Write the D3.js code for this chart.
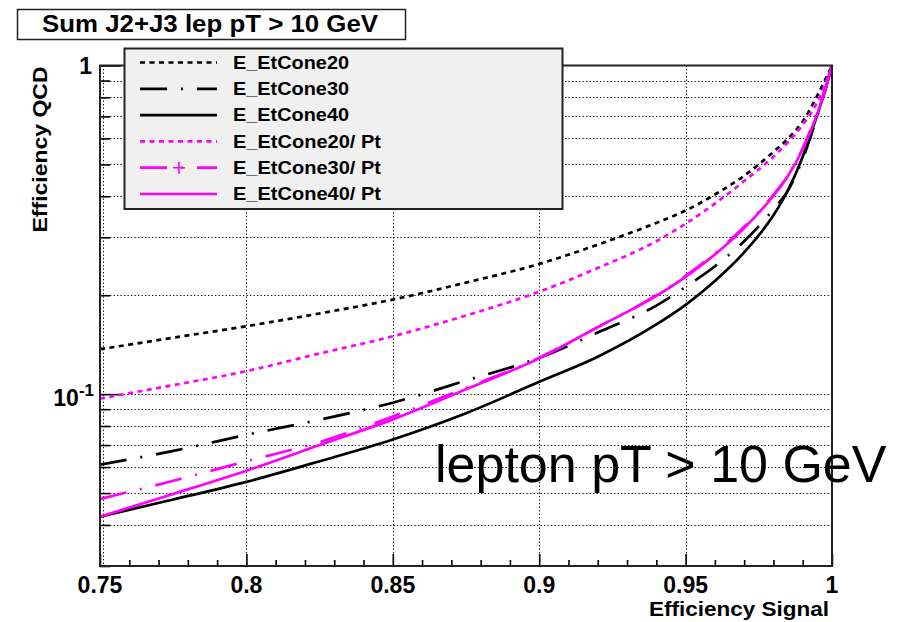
<!DOCTYPE html>
<html>
<head>
<meta charset="utf-8">
<script src="https://cdn.jsdelivr.net/npm/d3@7"></script>
<style>
  body { margin: 0; background: #fff; }
  svg { display: block; font-family: "Liberation Sans", Arial, Helvetica, sans-serif; }
</style>
</head>
<body>
<svg id="chart" width="911" height="622"></svg>
<script>
// Signal efficiency points shared by every isolation curve
const signalEff = [0.75, 0.775, 0.80, 0.825, 0.85, 0.875, 0.90, 0.92, 0.94, 0.95,
                   0.96, 0.97, 0.98, 0.985, 0.99, 0.995, 0.998, 1.0];

// QCD background efficiency for each isolation variable
const qcdEtCone20    = [0.137, 0.1485, 0.161, 0.176, 0.194, 0.2185, 0.249, 0.285, 0.332, 0.362,
                        0.405, 0.462, 0.546, 0.600, 0.676, 0.811, 0.918, 1.0];
const qcdEtCone30    = [0.061, 0.0672, 0.0752, 0.0836, 0.0942, 0.110, 0.129, 0.154, 0.186, 0.212,
                        0.245, 0.292, 0.365, 0.417, 0.520, 0.702, 0.866, 1.0];
const qcdEtCone40    = [0.0424, 0.0478, 0.0541, 0.0625, 0.0728, 0.0875, 0.109, 0.130, 0.163, 0.187,
                        0.221, 0.270, 0.350, 0.418, 0.528, 0.710, 0.860, 1.0];
const qcdEtCone20Pt  = [0.097, 0.1065, 0.1175, 0.133, 0.150, 0.1735, 0.205, 0.242, 0.292, 0.330,
                        0.380, 0.445, 0.528, 0.585, 0.660, 0.775, 0.895, 1.0];
const qcdEtCone30Pt  = [0.048, 0.0545, 0.0625, 0.0715, 0.0855, 0.1045, 0.129, 0.160, 0.200, 0.229,
                        0.268, 0.323, 0.404, 0.463, 0.560, 0.725, 0.868, 1.0];
const qcdEtCone40Pt  = [0.0424, 0.0497, 0.0585, 0.070, 0.0838, 0.1035, 0.1285, 0.160, 0.199, 0.2275,
                        0.266, 0.320, 0.402, 0.462, 0.556, 0.715, 0.860, 1.0];

const seriesNames  = ["E_EtCone20", "E_EtCone30", "E_EtCone40",
                      "E_EtCone20/ Pt", "E_EtCone30/ Pt", "E_EtCone40/ Pt"];
const seriesValues = [qcdEtCone20, qcdEtCone30, qcdEtCone40,
                      qcdEtCone20Pt, qcdEtCone30Pt, qcdEtCone40Pt];

const xTickValues = [0.75, 0.80, 0.85, 0.90, 0.95, 1.0];
const xTickLabels = ["0.75", "0.8", "0.85", "0.9", "0.95", "1"];

const titleText = "Sum J2+J3 lep pT > 10 GeV";
const xTitle = "Efficiency Signal";
const yTitle = "Efficiency QCD";
const noteText = "lepton pT > 10 GeV";

// ---- styles per series ----
const MAGENTA = "#ff00ff";
const styles = [
  { color: "#000", dash: "5,4.5" },
  { color: "#000", dash: "27,14,2,14" },
  { color: "#000", dash: null },
  { color: MAGENTA, dash: "5,4.5" },
  { color: MAGENTA, dash: "27,14,2,14", marker: true },
  { color: MAGENTA, dash: null }
];

const svg = d3.select("#chart");

const frame = { left: 100, right: 832, top: 65.5, bottom: 566 };
const x = d3.scaleLinear().domain([0.75, 1.0]).range([frame.left, frame.right]);
const y = d3.scaleLog().domain([0.03, 1.0]).range([frame.bottom, frame.top]);

function fit(sel, len) {
  return sel.attr("textLength", len).attr("lengthAdjust", "spacingAndGlyphs");
}

// ---- grid ----
const yMinor = [0.03, 0.04, 0.05, 0.06, 0.07, 0.08, 0.09, 0.2, 0.3, 0.4, 0.5, 0.6, 0.7, 0.8, 0.9];
const yMajor = [0.1, 1.0];
const grid = svg.append("g").attr("stroke", "#000").attr("stroke-width", 1)
  .attr("stroke-dasharray", "1.3,2.2");
grid.selectAll("line.h").data(yMinor.concat([0.1])).join("line")
  .attr("x1", frame.left + 3).attr("x2", frame.right)
  .attr("y1", d => Math.round(y(d)) + 0.5).attr("y2", d => Math.round(y(d)) + 0.5);
grid.selectAll("line.v").data([0.80, 0.85, 0.90, 0.95]).join("line")
  .attr("x1", d => Math.round(x(d)) + 0.5).attr("x2", d => Math.round(x(d)) + 0.5)
  .attr("y1", frame.top).attr("y2", frame.bottom);
grid.append("line")
  .attr("x1", frame.left + 3.5).attr("x2", frame.left + 3.5)
  .attr("y1", frame.top).attr("y2", frame.bottom);

// ---- axes ticks ----
const xMinor = d3.range(0, 26).map(i => 0.75 + i * 0.01)
  .filter((v, i) => i % 5 !== 0);
const gx = svg.append("g").attr("transform", `translate(0,${frame.bottom})`);
gx.call(d3.axisBottom(x).tickValues(xMinor).tickSize(-6).tickFormat(""));
gx.call(g => g.select(".domain").remove());
const gx2 = svg.append("g").attr("transform", `translate(0,${frame.bottom})`);
gx2.call(d3.axisBottom(x).tickValues(xTickValues).tickSize(-12).tickFormat(""));
gx2.call(g => g.select(".domain").remove());

const gy = svg.append("g").attr("transform", `translate(${frame.left},0)`);
gy.call(d3.axisLeft(y).tickValues(yMinor).tickSize(-10).tickFormat(""));
gy.call(g => g.select(".domain").remove());
const gy2 = svg.append("g").attr("transform", `translate(${frame.left},0)`);
gy2.call(d3.axisLeft(y).tickValues(yMajor).tickSize(-21).tickFormat(""));
gy2.call(g => g.select(".domain").remove());
svg.selectAll(".tick line").attr("stroke", "#000").attr("stroke-width", 1.6);

// ---- curves ----
svg.append("clipPath").attr("id", "plotClip").append("rect")
  .attr("x", frame.left).attr("y", frame.top - 4)
  .attr("width", frame.right - frame.left + 3).attr("height", frame.bottom - frame.top + 4);

const line = d3.line()
  .x(d => x(d[0]))
  .y(d => y(d[1]))
  .curve(d3.curveMonotoneX);

const curves = svg.append("g").attr("clip-path", "url(#plotClip)");
seriesValues.forEach((vals, i) => {
  const pts = signalEff.map((s, k) => [s, vals[k]]);
  curves.append("path")
    .attr("d", line(pts))
    .attr("fill", "none")
    .attr("stroke", styles[i].color)
    .attr("stroke-width", 2.7)
    .attr("stroke-dasharray", styles[i].dash)
    .attr("stroke-linejoin", "round");
});

// ---- frame ----
svg.append("rect")
  .attr("x", frame.left).attr("y", frame.top)
  .attr("width", frame.right - frame.left).attr("height", frame.bottom - frame.top)
  .attr("fill", "none").attr("stroke", "#222").attr("stroke-width", 2);

// ---- tick labels ----
const xl = svg.append("g").attr("font-weight", "bold").attr("font-size", 23)
  .attr("text-anchor", "middle").attr("fill", "#000");
xl.selectAll("text").data(xTickValues).join("text")
  .attr("x", d => x(d)).attr("y", 593)
  .text((d, i) => xTickLabels[i]);

const yl = svg.append("g").attr("font-weight", "bold").attr("fill", "#000");
yl.append("text").attr("x", 92).attr("y", y(1.0) + 8.5).attr("text-anchor", "end")
  .attr("font-size", 23).text("1");
const dec = yl.append("text").attr("x", 94).attr("y", y(0.1) + 12).attr("text-anchor", "end")
  .attr("font-size", 23);
dec.append("tspan").text("10");
dec.append("tspan").attr("font-size", 17).attr("dy", -10).text("-1");

// ---- axis titles ----
fit(svg.append("text")
  .attr("x", 829).attr("y", 616).attr("text-anchor", "end")
  .attr("font-weight", "bold").attr("font-size", 21).text(xTitle), 180);

fit(svg.append("text")
  .attr("transform", `translate(47,${frame.top + 1}) rotate(-90)`)
  .attr("text-anchor", "end")
  .attr("font-weight", "bold").attr("font-size", 21).text(yTitle), 166);

// ---- title box ----
svg.append("rect").attr("x", 17.5).attr("y", 9.5).attr("width", 388).attr("height", 30)
  .attr("fill", "#fff").attr("stroke", "#222").attr("stroke-width", 1.5);
fit(svg.append("text").attr("x", 42).attr("y", 31.5)
  .attr("font-weight", "bold").attr("font-size", 23.3).text(titleText), 336);

// ---- legend ----
const leg = svg.append("g");
leg.append("rect").attr("x", 124.5).attr("y", 48.5).attr("width", 438).attr("height", 160.5)
  .attr("fill", "#f0f0f0").attr("stroke", "#222").attr("stroke-width", 2);
seriesNames.forEach((name, i) => {
  const cy = 62.5 + i * 26.3;
  leg.append("line")
    .attr("x1", 140).attr("x2", 217).attr("y1", cy).attr("y2", cy)
    .attr("stroke", styles[i].color).attr("stroke-width", 2.7)
    .attr("stroke-dasharray", styles[i].dash);
  if (styles[i].marker) {
    leg.append("path")
      .attr("d", `M${173},${cy} H${185} M${179},${cy - 6} V${cy + 6}`)
      .attr("stroke", styles[i].color).attr("stroke-width", 1.6);
  }
  fit(leg.append("text").attr("x", 233).attr("y", cy + 6.3)
    .attr("font-weight", "bold").attr("font-size", 17.7).attr("fill", "#000").text(name),
    name.length > 10 ? 148 : 116);
});

// ---- annotation ----
svg.append("text").attr("x", 435).attr("y", 482)
  .attr("font-size", 52).attr("fill", "#000").text(noteText);
</script>
</body>
</html>
